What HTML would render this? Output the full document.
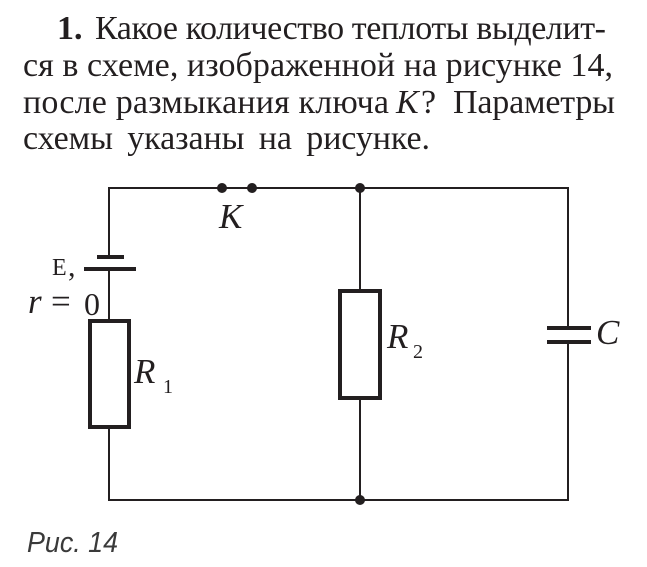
<!DOCTYPE html>
<html>
<head>
<meta charset="utf-8">
<style>
  html, body { margin: 0; padding: 0; background: #fff; }
  body { width: 647px; height: 567px; overflow: hidden; }
  svg { display: block; }
  .t { font-family: "Liberation Serif", "Noto Serif CJK SC", serif; font-size: 34px; fill: #231f20; }
  .l { font-family: "Liberation Serif", serif; font-size: 35px; fill: #231f20; }
  .i { font-style: italic; }
  .b { font-weight: bold; }
</style>
</head>
<body>
<svg width="647" height="567" viewBox="0 0 647 567" xmlns="http://www.w3.org/2000/svg">
  <!-- Problem text -->
  <text class="t b" x="57" y="39">1.</text>
  <text class="t" x="95" y="39" textLength="511" lengthAdjust="spacing">Какое количество теплоты выделит-</text>
  <text class="t" x="23" y="76" textLength="590" lengthAdjust="spacing">ся в схеме, изображенной на рисунке 14,</text>
  <text class="t" x="23" y="113" textLength="366" lengthAdjust="spacing">после размыкания ключа</text>
  <text class="t i" x="396" y="113">K</text>
  <text class="t" x="421" y="113">?</text>
  <text class="t" x="453" y="113" textLength="162" lengthAdjust="spacing">Параметры</text>
  <text class="t" x="23" y="149" textLength="407" lengthAdjust="spacing" word-spacing="6">схемы указаны на рисунке.</text>

  <!-- Wires -->
  <g stroke="#231f20" stroke-width="2" fill="none">
    <line x1="108" y1="188" x2="569" y2="188"/>
    <line x1="109" y1="187" x2="109" y2="257"/>
    <line x1="109" y1="269" x2="109" y2="321"/>
    <line x1="109" y1="427" x2="109" y2="501"/>
    <line x1="108" y1="500" x2="569" y2="500"/>
    <line x1="360" y1="188" x2="360" y2="291"/>
    <line x1="360" y1="398" x2="360" y2="500"/>
    <line x1="568" y1="187" x2="568" y2="328"/>
    <line x1="568" y1="342" x2="568" y2="501"/>
  </g>

  <!-- Battery -->
  <rect x="97" y="255" width="27" height="4" fill="#231f20"/>
  <rect x="84" y="267" width="52" height="4" fill="#231f20"/>

  <!-- Resistors -->
  <rect x="90" y="321" width="39" height="106" fill="#fff" stroke="#231f20" stroke-width="4"/>
  <rect x="340" y="291" width="40" height="107" fill="#fff" stroke="#231f20" stroke-width="4"/>

  <!-- Capacitor -->
  <rect x="547" y="326" width="44" height="4" fill="#231f20"/>
  <rect x="547" y="340" width="44" height="4" fill="#231f20"/>

  <!-- Dots -->
  <g fill="#231f20">
    <circle cx="222" cy="188" r="5"/>
    <circle cx="252" cy="188" r="5"/>
    <circle cx="360" cy="188" r="5"/>
    <circle cx="360" cy="500" r="5"/>
  </g>

  <!-- Labels -->
  <text class="l i" x="219" y="228">K</text>
  <text x="52" y="275" style="font-family:'Liberation Serif',serif;font-size:24px;fill:#231f20;">E</text>
  <text class="l" x="68" y="276" style="font-size:30px;">,</text>
  <text class="l i" x="28" y="313">r</text>
  <text class="l" x="51" y="313">=</text>
  <text class="l" x="84" y="315" style="font-size:32px;">0</text>
  <text class="l i" x="134" y="383">R</text>
  <text class="l" x="163" y="393" style="font-size:20px;">1</text>
  <text class="l i" x="387" y="348">R</text>
  <text class="l" x="413" y="358" style="font-size:20px;">2</text>
  <text class="l i" x="596" y="344">C</text>

  <!-- Caption -->
  <text x="27" y="552" textLength="91" lengthAdjust="spacingAndGlyphs" style="font-family:'Liberation Sans',sans-serif;font-style:italic;font-size:29px;fill:#3a3a3a;">Рис. 14</text>
</svg>
</body>
</html>
